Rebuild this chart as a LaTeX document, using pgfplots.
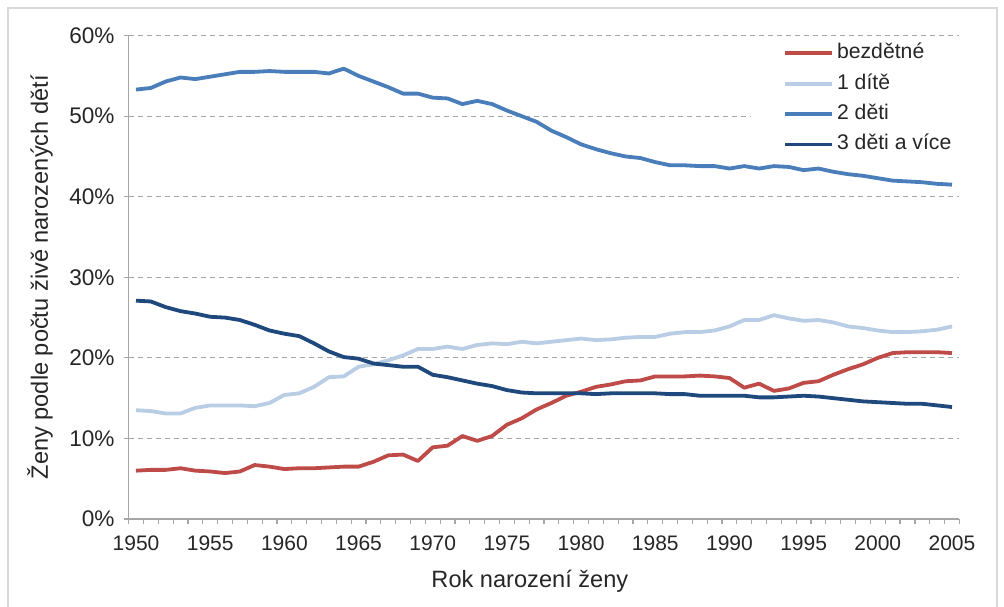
\documentclass[border=0pt]{standalone}
\usepackage{pgfplots}
\pgfplotsset{compat=1.18}
\usepackage{pgfplotstable}
\usepackage{fontspec}
\setmainfont{Liberation Sans}
\definecolor{cRed}{HTML}{BE4B48}
\definecolor{cLight}{HTML}{B9CDE5}
\definecolor{cMid}{HTML}{4A7EBB}
\definecolor{cNavy}{HTML}{1F497D}
\definecolor{cGrid}{HTML}{A6A6A6}
\definecolor{cAxis}{HTML}{A6A6A6}
\definecolor{cText}{HTML}{262626}

\pgfplotstableread{
year bez one two three
1950 6.0 13.5 53.3 27.1
1951 6.1 13.4 53.5 27.0
1952 6.1 13.1 54.3 26.3
1953 6.3 13.1 54.8 25.8
1954 6.0 13.8 54.6 25.5
1955 5.9 14.1 54.9 25.1
1956 5.7 14.1 55.2 25.0
1957 5.9 14.1 55.5 24.7
1958 6.7 14.0 55.5 24.1
1959 6.5 14.4 55.6 23.4
1960 6.2 15.4 55.5 23.0
1961 6.3 15.6 55.5 22.7
1962 6.3 16.4 55.5 21.8
1963 6.4 17.6 55.3 20.8
1964 6.5 17.7 55.9 20.1
1965 6.5 18.9 55.0 19.9
1966 7.1 19.2 54.3 19.3
1967 7.9 19.7 53.6 19.1
1968 8.0 20.3 52.8 18.9
1969 7.2 21.1 52.8 18.9
1970 8.9 21.1 52.3 17.9
1971 9.1 21.4 52.2 17.6
1972 10.3 21.1 51.5 17.2
1973 9.7 21.6 51.9 16.8
1974 10.3 21.8 51.5 16.5
1975 11.7 21.7 50.7 16.0
1976 12.5 22.0 50.0 15.7
1977 13.6 21.8 49.3 15.6
1978 14.4 22.0 48.2 15.6
1979 15.3 22.2 47.4 15.6
1980 15.8 22.4 46.5 15.6
1981 16.4 22.2 45.9 15.5
1982 16.7 22.3 45.4 15.6
1983 17.1 22.5 45.0 15.6
1984 17.2 22.6 44.8 15.6
1985 17.7 22.6 44.3 15.6
1986 17.7 23.0 43.9 15.5
1987 17.7 23.2 43.9 15.5
1988 17.8 23.2 43.8 15.3
1989 17.7 23.4 43.8 15.3
1990 17.5 23.9 43.5 15.3
1991 16.3 24.7 43.8 15.3
1992 16.8 24.7 43.5 15.1
1993 15.9 25.3 43.8 15.1
1994 16.2 24.9 43.7 15.2
1995 16.9 24.6 43.3 15.3
1996 17.1 24.7 43.5 15.2
1997 17.9 24.4 43.1 15.0
1998 18.6 23.9 42.8 14.8
1999 19.2 23.7 42.6 14.6
2000 20.0 23.4 42.3 14.5
2001 20.6 23.2 42.0 14.4
2002 20.7 23.2 41.9 14.3
2003 20.7 23.3 41.8 14.3
2004 20.7 23.5 41.6 14.1
2005 20.6 23.9 41.5 13.9
}\data

\begin{document}
\begin{tikzpicture}
\path[use as bounding box] (-64.3pt,-43.5pt) rectangle (437.7pt,259.5pt);
\begin{axis}[
  at={(0,0)}, anchor=south west,
  scale only axis, width=415.4pt, height=241.7pt,
  xmin=1949.5, xmax=2005.5, ymin=0, ymax=60,
  axis lines*=left,
  axis line style={cAxis, line width=0.6pt},
  tick align=outside,
  xtick={1950,1955,...,2005},
  major x tick style={draw=none},
  minor xtick={1949.5,1950.5,...,2005.5},
  minor tick length=2.5pt,
  major tick length=2.5pt,
  tick style={cAxis, line width=0.6pt},
  ytick={0,10,...,60},
  yticklabel={\pgfmathprintnumber{\tick}\%},
  /pgf/number format/assume math mode=true,
  xticklabel={\pgfmathprintnumber[1000 sep={}]{\tick}},
  ticklabel style={text=cText},
  xticklabel style={font=\fontsize{10.5}{12}\selectfont, yshift=-2.5pt},
  yticklabel style={font=\fontsize{11.3}{13}\selectfont, xshift=-1pt},
  ymajorgrids,
  grid style={cGrid, dash pattern=on 2.5pt off 2pt, line width=0.6pt},
  xlabel={Rok narození ženy},
  ylabel={Ženy podle počtu živě narozených dětí},
  label style={font=\fontsize{11.8}{14}\selectfont, text=cText},
  xlabel style={at={(axis description cs:0.483,-0.128)}, anchor=center},
  ylabel style={at={(axis description cs:-0.1066,0.5)}, anchor=center},
  legend cell align=left,
  legend style={at={(0.749,0.9928)}, anchor=north west, draw=none, fill=white,
    inner xsep=16pt, inner ysep=2pt, row sep=5.4pt, column sep=1.5pt,
    font=\fontsize{10.6}{12}\selectfont, text=cText,
    nodes={inner sep=0pt, text height=7.6pt, text depth=2.2pt}},
  legend image code/.code={\draw[#1] (0pt,0pt) -- (23.5pt,0pt);},
  every axis plot/.append style={line width=1.9pt, line join=round},
]
\addplot[cRed] table[x=year, y=bez] {\data};
\addlegendentry{bezdětné}
\addplot[cLight] table[x=year, y=one] {\data};
\addlegendentry{1 dítě}
\addplot[cMid] table[x=year, y=two] {\data};
\addlegendentry{2 děti}
\addplot[cNavy] table[x=year, y=three] {\data};
\addlegendentry{3 děti a více}
\end{axis}
\draw[gray!30, line width=0.8pt] (-60.3pt,-50pt) -- (-60.3pt,255.5pt) -- (434.2pt,255.5pt) -- (434.2pt,-50pt);
\end{tikzpicture}
\end{document}
